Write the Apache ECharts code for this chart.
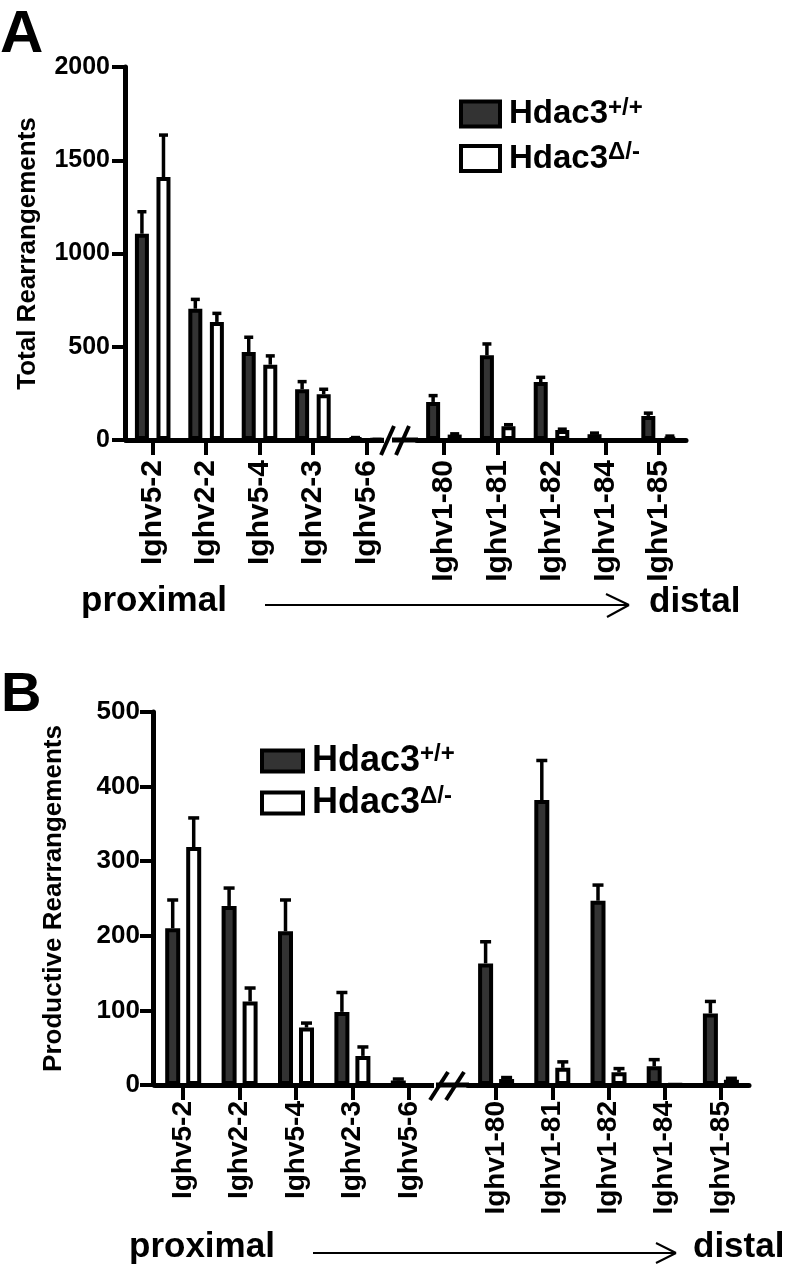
<!DOCTYPE html>
<html>
<head>
<meta charset="utf-8">
<script src="https://cdn.jsdelivr.net/npm/echarts@6/dist/echarts.min.js"></script>
<style>
html,body{margin:0;padding:0;background:#fff;}
#c{width:796px;height:1274px;}
</style>
</head>
<body>
<div id="c"></div>
<script>
// ---------------- data ----------------
const proximalGenes = ['Ighv5-2', 'Ighv2-2', 'Ighv5-4', 'Ighv2-3', 'Ighv5-6'];
const distalGenes = ['Ighv1-80', 'Ighv1-81', 'Ighv1-82', 'Ighv1-84', 'Ighv1-85'];
const seriesNames = ['Hdac3+/+', 'Hdac3\u0394/-'];

// Panel A: total rearrangements (mean, SEM) – proximal 5 then distal 5
const totalWT     = [1106, 704, 472, 272, 10, 204, 454, 311, 31, 129];
const totalWTSem  = [118, 50, 79, 41, 3, 34, 61, 25, 6, 15];
const totalKO     = [1410, 633, 404, 245, 2, 29, 74, 53, 0, 17];
const totalKOSem  = [225, 46, 47, 27, 1, 4, 8, 5, 0, 4];
const totalAxis   = [0, 2000, 500];      // min, max, interval

// Panel B: productive rearrangements (mean, SEM)
const prodWT      = [210, 240, 206, 98, 6, 163, 382, 247, 25, 96];
const prodWTSem   = [38, 24, 42, 26, 2, 29, 53, 21, 9, 16];
const prodKO      = [319, 112, 77, 39, 0, 8, 23, 17, 1, 7];
const prodKOSem   = [39, 18, 6, 12, 0, 2, 8, 5, 0, 2];
const prodAxis    = [0, 500, 100];

// ---------------- styling ----------------
const FONT = "'Liberation Sans', Arial, Helvetica, sans-serif";
const DARK = '#333333';

const panels = [
  { axis: totalAxis, wt: totalWT, wtSem: totalWTSem, ko: totalKO, koSem: totalKOSem,
    title: 'Total Rearrangements',
    grids: [{left:126, top:67, width:267, height:373}, {left:417, top:67, width:269, height:373}],
    yOffset: 1, yLabelSize: 25, yLabelMargin: 15, nameGap: 84,
    catSize: 30, catMargin: 20, barWidth: 14, barGapPct: 54, cap: 9 },
  { axis: prodAxis, wt: prodWT, wtSem: prodWTSem, ko: prodKO, koSem: prodKOSem,
    title: 'Productive Rearrangements',
    grids: [{left:155, top:712, width:282, height:373}, {left:468, top:712, width:281, height:373}],
    yOffset: 2, yLabelSize: 26, yLabelMargin: 13, nameGap: 86,
    catSize: 28, catMargin: 16, barWidth: 15, barGapPct: 40, cap: 11 }
];

const grid = [], xAxis = [], yAxis = [], series = [];
panels.forEach((p, pi) => {
  p.grids.forEach((g, gi) => {
    const idx = grid.length;
    grid.push(Object.assign({containLabel:false}, g));
    const cats = gi === 0 ? proximalGenes : distalGenes;
    xAxis.push({
      type: 'category', gridIndex: idx, data: cats,
      axisLine: {show: true, lineStyle: {color: '#000', width: 5}},
      axisTick: {show: true, alignWithLabel: true, length: 15, lineStyle: {color: '#000', width: 4}},
      axisLabel: {interval: 0, rotate: 90, fontSize: p.catSize, fontWeight: 'bold', fontFamily: FONT,
                  color: '#000', margin: p.catMargin},
      splitLine: {show: false}
    });
    yAxis.push({
      type: 'value', gridIndex: idx, min: p.axis[0], max: p.axis[1], interval: p.axis[2],
      show: gi === 0, offset: p.yOffset,
      axisLine: {show: true, lineStyle: {color: '#000', width: 5}},
      axisTick: {show: true, length: 13, lineStyle: {color: '#000', width: 4}},
      axisLabel: {fontSize: p.yLabelSize, fontWeight: 'bold', fontFamily: FONT, color: '#000',
                  margin: p.yLabelMargin, formatter: v => String(v)},
      splitLine: {show: false},
      name: gi === 0 ? p.title : '', nameLocation: 'middle', nameGap: p.nameGap,
      nameTextStyle: {fontSize: 26, fontWeight: 'bold', fontFamily: FONT, color: '#000'}
    });
    const sl = gi === 0 ? [0, 5] : [5, 10];
    const groups = [
      {name: seriesNames[0], mean: p.wt, sem: p.wtSem, color: DARK, sign: -1},
      {name: seriesNames[1], mean: p.ko, sem: p.koSem, color: '#fff', sign: 1}
    ];
    const off = (p.barWidth + p.barWidth * p.barGapPct / 100) / 2;
    groups.forEach(gr => {
      series.push({
        type: 'bar', name: gr.name, xAxisIndex: idx, yAxisIndex: idx,
        data: gr.mean.slice(sl[0], sl[1]),
        barWidth: p.barWidth, barGap: p.barGapPct + '%',
        itemStyle: {color: gr.color, borderColor: '#000', borderWidth: 4},
        z: 3, silent: true
      });
    });
    groups.forEach(gr => {
      const data = gr.mean.slice(sl[0], sl[1]).map((m, j) => [j, m, gr.sem[sl[0] + j]]);
      series.push({
        type: 'custom', xAxisIndex: idx, yAxisIndex: idx, z: 2, silent: true,
        data: data,
        encode: {x: 0, y: 1},
        renderItem: (params, api) => {
          const x = api.value(0), m = api.value(1), s = api.value(2);
          if (!(s > 0)) return null;
          const p0 = api.coord([x, m]);
          const p1 = api.coord([x, m + s]);
          const cx = p0[0] + gr.sign * off;
          return {type: 'group', children: [
            {type: 'line', shape: {x1: cx, y1: p0[1], x2: cx, y2: p1[1]}, style: {stroke: '#000', lineWidth: 3.5}},
            {type: 'line', shape: {x1: cx - p.cap / 2, y1: p1[1], x2: cx + p.cap / 2, y2: p1[1]}, style: {stroke: '#000', lineWidth: 3.5}}
          ]};
        }
      });
    });
  });
});

function legendFmt(n) { return '{b|' + n.slice(0, 5) + '}{s|' + n.slice(5) + '}'; }
function legendCfg(left, top, w, h, gap, big, small, lh) {
  return {
    data: seriesNames, orient: 'vertical', left: left, top: top, padding: 0,
    itemWidth: w, itemHeight: h, itemGap: gap, selectedMode: false, icon: 'rect',
    itemStyle: {borderColor: '#000', borderWidth: 4},
    formatter: legendFmt,
    textStyle: {
      color: '#000',
      rich: {
        b: {fontSize: big, fontWeight: 'bold', fontFamily: FONT, color: '#000', lineHeight: lh, padding: [0, 0, 0, 4]},
        s: {fontSize: small, fontWeight: 'bold', fontFamily: FONT, color: '#000', lineHeight: small, verticalAlign: 'top'}
      }
    }
  };
}

function txt(text, x, y, size) {
  return {type: 'text', x: x, y: y, silent: true,
    style: {text: text, font: 'bold ' + size + 'px ' + FONT, fill: '#000', verticalAlign: 'middle', align: 'left'}};
}
function ln(x1, y1, x2, y2, w) {
  return {type: 'line', silent: true, shape: {x1, y1, x2, y2}, style: {stroke: '#000', lineWidth: w}, z: 10};
}
function whiteRect(x, y, w, h) {
  return {type: 'rect', silent: true, shape: {x, y, width: w, height: h}, style: {fill: '#fff'}, z: 9};
}

const graphic = [
  txt('A', 0, 35, 60),
  txt('B', 1, 696, 56),
  // axis bridges and breaks, panel A
  ln(392, 440, 418, 440, 5),
  whiteRect(384, 434, 21, 12),
  ln(381, 455, 394, 426, 4),
  ln(396, 455, 409, 426, 4),
  // panel B
  ln(436, 1085, 469, 1085, 5),
  whiteRect(434, 1079, 27, 12),
  ln(430, 1100, 448, 1072, 4),
  ln(446, 1100, 464, 1072, 4),
  // proximal -> distal labels
  txt('proximal', 81, 601, 35),
  txt('distal', 649, 602, 35),
  ln(265, 605, 629, 605, 2),
  ln(606, 594, 629, 605, 2),
  ln(629, 605, 607, 617, 2),
  txt('proximal', 129, 1247, 35),
  txt('distal', 693, 1247, 35),
  ln(313, 1253, 676, 1253, 2),
  ln(656, 1243, 676, 1253, 2),
  ln(676, 1253, 656, 1263, 2)
];

const chart = echarts.init(document.getElementById('c'), null, {renderer: 'canvas'});
chart.setOption({
  animation: false,
  backgroundColor: '#fff',
  grid: grid, xAxis: xAxis, yAxis: yAxis, series: series,
  legend: [
    legendCfg(459, 96, 39, 25, 10, 33, 24, 36),
    legendCfg(260, 742, 41, 21, 5, 36, 24, 38)
  ],
  graphic: graphic
});
</script>
</body>
</html>
